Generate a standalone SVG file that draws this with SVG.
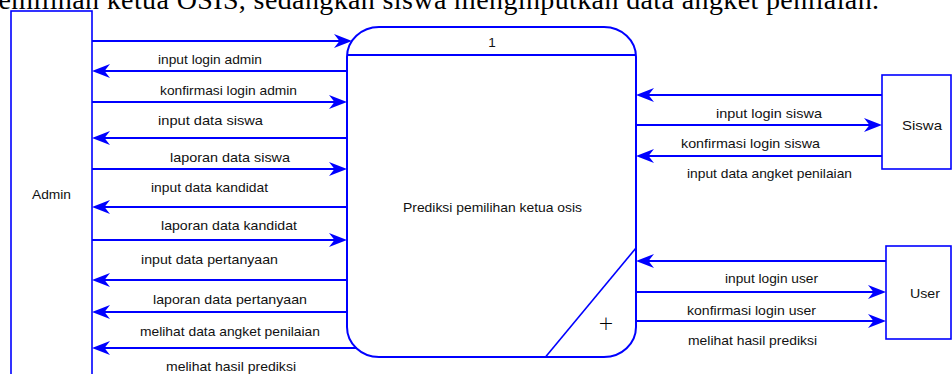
<svg xmlns="http://www.w3.org/2000/svg" width="952" height="374" viewBox="0 0 952 374">
<style>
.ent{fill:#fff;stroke:#0000ff;stroke-width:1.6}
.proc{fill:#fff;stroke:#0000ff;stroke-width:2}
.fl{fill:none;stroke:#0000ff;stroke-width:2;marker-end:url(#ah)}
.lb{font-family:"Liberation Sans",Arial,sans-serif;font-size:13.5px;fill:#111}
.top{font-family:"Liberation Serif","Times New Roman",serif;font-size:28px;fill:#000}
</style>
<defs>
<marker id="ah" markerUnits="userSpaceOnUse" markerWidth="24" markerHeight="16" viewBox="-20 -8 24 16" refX="-4" refY="0" orient="auto" overflow="visible">
<path d="M0,0 L-18,-7 L-12.5,0 L-18,7 Z" fill="#0000ff"/>
</marker>
</defs>
<text class="top" x="-16" y="8.5" textLength="895">pemilihan ketua OSIS, sedangkan siswa menginputkan data angket penilaian.</text>

<g id="admin">
<rect class="ent" x="11" y="11" width="81" height="380"/>
<text class="lb" x="32" y="198.5" textLength="39" lengthAdjust="spacingAndGlyphs">Admin</text>
</g>

<g id="process1">
<rect class="proc" x="347" y="27" width="289" height="330" rx="32" ry="30"/>
<line x1="347" y1="55" x2="636" y2="55" stroke="#0000ff" stroke-width="2"/>
<line x1="636" y1="248" x2="545.5" y2="357" stroke="#0000ff" stroke-width="1.6"/>
<text class="lb" x="492" y="46.5" text-anchor="middle">1</text>
<text class="lb" x="403" y="211.5" textLength="179" lengthAdjust="spacingAndGlyphs">Prediksi pemilihan ketua osis</text>
<text x="606" y="330" text-anchor="middle" style="font-family:'DejaVu Sans',sans-serif;font-size:19px;font-weight:200;fill:#000">+</text>
</g>

<g id="siswa">
<rect class="ent" x="882" y="75" width="69" height="94"/>
<text class="lb" x="902" y="129.5" textLength="40" lengthAdjust="spacingAndGlyphs">Siswa</text>
</g>

<g id="user">
<rect class="ent" x="886" y="246" width="65" height="93"/>
<text class="lb" x="910" y="297.5" textLength="30" lengthAdjust="spacingAndGlyphs">User</text>
</g>

<g id="connectors">
<line class="fl" x1="92" y1="41" x2="348" y2="41"/>
<line class="fl" x1="347" y1="71" x2="96" y2="71"/>
<line class="fl" x1="92" y1="102" x2="343" y2="102"/>
<line class="fl" x1="347" y1="138" x2="96" y2="138"/>
<line class="fl" x1="92" y1="169" x2="343" y2="169"/>
<line class="fl" x1="347" y1="207" x2="96" y2="207"/>
<line class="fl" x1="92" y1="240" x2="343" y2="240"/>
<line class="fl" x1="347" y1="280" x2="96" y2="280"/>
<line class="fl" x1="347" y1="312" x2="96" y2="312"/>
<line class="fl" x1="357" y1="348" x2="96" y2="348"/>

<line class="fl" x1="882" y1="95" x2="640" y2="95"/>
<line class="fl" x1="636" y1="125" x2="878" y2="125"/>
<line class="fl" x1="882" y1="156" x2="640" y2="156"/>
<line class="fl" x1="886" y1="261" x2="640" y2="261"/>
<line class="fl" x1="636" y1="292" x2="882" y2="292"/>
<line class="fl" x1="636" y1="321" x2="882" y2="321"/>

<text class="lb" x="158" y="64" textLength="104" lengthAdjust="spacingAndGlyphs">input login admin</text>
<text class="lb" x="160" y="94.5" textLength="137" lengthAdjust="spacingAndGlyphs">konfirmasi login admin</text>
<text class="lb" x="158" y="124.5" textLength="105" lengthAdjust="spacingAndGlyphs">input data siswa</text>
<text class="lb" x="170" y="161.5" textLength="120" lengthAdjust="spacingAndGlyphs">laporan data siswa</text>
<text class="lb" x="151" y="191.5" textLength="117" lengthAdjust="spacingAndGlyphs">input data kandidat</text>
<text class="lb" x="161" y="229.5" textLength="136" lengthAdjust="spacingAndGlyphs">laporan data kandidat</text>
<text class="lb" x="141" y="263.5" textLength="137" lengthAdjust="spacingAndGlyphs">input data pertanyaan</text>
<text class="lb" x="153" y="303.5" textLength="154" lengthAdjust="spacingAndGlyphs">laporan data pertanyaan</text>
<text class="lb" x="140" y="336" textLength="180" lengthAdjust="spacingAndGlyphs">melihat data angket penilaian</text>
<text class="lb" x="166" y="371" textLength="130" lengthAdjust="spacingAndGlyphs">melihat hasil prediksi</text>

<text class="lb" x="716" y="118" textLength="106" lengthAdjust="spacingAndGlyphs">input login siswa</text>
<text class="lb" x="681" y="148" textLength="139" lengthAdjust="spacingAndGlyphs">konfirmasi login siswa</text>
<text class="lb" x="687" y="178" textLength="165" lengthAdjust="spacingAndGlyphs">input data angket penilaian</text>
<text class="lb" x="725" y="283" textLength="93" lengthAdjust="spacingAndGlyphs">input login user</text>
<text class="lb" x="687" y="314.5" textLength="129" lengthAdjust="spacingAndGlyphs">konfirmasi login user</text>
<text class="lb" x="688" y="344.5" textLength="129" lengthAdjust="spacingAndGlyphs">melihat hasil prediksi</text>
</g>
</svg>
